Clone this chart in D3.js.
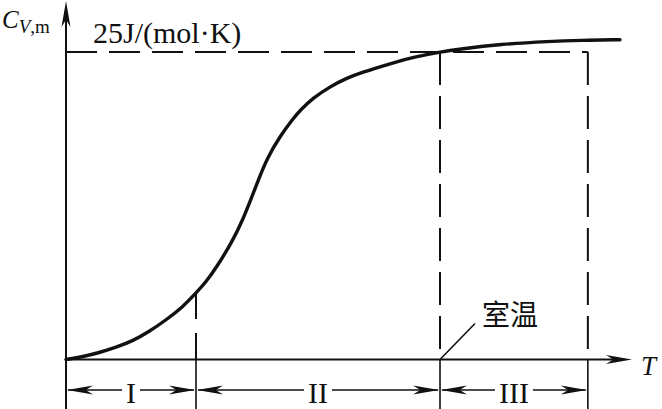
<!DOCTYPE html>
<html><head><meta charset="utf-8">
<script src="https://cdn.jsdelivr.net/npm/d3@7"></script>
<style>
html,body{margin:0;padding:0;background:#fff;}
svg{display:block;}
text{fill:#111;}
</style></head>
<body><svg id="c" width="662" height="409"></svg>
<script>
// Temperature (arbitrary units, 0..100 along axis) and molar heat capacity C_V,m (J/(mol·K))
const T  = [0, 3.0, 5.83, 8.83, 11.84, 14.66, 17.67, 20.67, 22.97, 24.73, 26.68, 29.51, 31.27, 32.51, 33.92, 35.51, 37.81, 40.11, 41.34, 43.64, 46.64, 49.65, 52.47, 55.48, 58.48, 61.31, 66.08, 69.61, 76.68, 85.51, 90.81, 97.88];
const Cv = [0, 0.23, 0.55, 0.98, 1.52, 2.26, 3.21, 4.29, 5.41, 6.30, 7.55, 9.70, 11.41, 12.83, 14.52, 16.35, 18.15, 19.57, 20.25, 21.26, 22.18, 22.89, 23.37, 23.80, 24.21, 24.57, 25.0, 25.24, 25.63, 25.87, 25.95, 26.0];
const plateau = 25;
const plateauLabel = "25J/(mol·K)";
const regionBounds = [0, 22.97, 66.08, 92.2];
const regionLabels = ["I", "II", "III"];
const roomTempLabel = "室温";
const roomTempIndex = 2; // boundary that marks room temperature

const svg = d3.select("#c");
const x = d3.scaleLinear().domain([0, 100]).range([66, 632]);
const y = d3.scaleLinear().domain([0, 25]).range([359.5, 52]);
const bottom = 409, rowY = 390;
const ink = "#111";
const serif = "'Liberation Serif','DejaVu Serif',serif";

// arrowhead shape, tip at origin pointing +x
const head = (len, hw) => `M0,0 L${-len},${-hw} L${-len*0.72},0 L${-len},${hw} Z`;
function arrowHead(px, py, angleDeg, len, hw) {
  svg.append("path").attr("d", head(len, hw)).attr("fill", ink)
    .attr("transform", `translate(${px},${py}) rotate(${angleDeg})`);
}

// dashed plateau line
svg.append("line").attr("x1", x(0)).attr("x2", x(regionBounds[3]))
  .attr("y1", y(plateau)).attr("y2", y(plateau))
  .attr("stroke", ink).attr("stroke-width", 2).attr("stroke-dasharray", "31,12");

// region boundaries: dashed above the axis, solid below it
const line = d3.line().x((d, i) => x(T[i])).y(d => y(d)).curve(d3.curveBasis);
const curveAt = t => {
  const i = d3.bisectLeft(T, t);
  if (T[i] === t) return Cv[i];
  const f = (t - T[i-1]) / (T[i] - T[i-1]);
  return Cv[i-1] + f * (Cv[i] - Cv[i-1]);
};
regionBounds.slice(1).forEach((b, k) => {
  const topV = k === 0 ? curveAt(b) : plateau;
  svg.append("line").attr("x1", x(b)).attr("x2", x(b)).attr("y1", y(topV)).attr("y2", y(0))
    .attr("stroke", ink).attr("stroke-width", 2).attr("stroke-dasharray", k === 0 ? "26,14" : "33,11");
  svg.append("line").attr("x1", x(b)).attr("x2", x(b)).attr("y1", y(0)).attr("y2", bottom)
    .attr("stroke", ink).attr("stroke-width", 1.6);
});

// axes
svg.append("line").attr("x1", x(0)).attr("x2", x(0)).attr("y1", bottom).attr("y2", 12)
  .attr("stroke", ink).attr("stroke-width", 2);
arrowHead(x(0), 1, -90, 26, 4.5);
svg.append("line").attr("x1", x(0)).attr("x2", x(100) - 10).attr("y1", y(0)).attr("y2", y(0))
  .attr("stroke", ink).attr("stroke-width", 2);
arrowHead(x(100), y(0), 0, 26, 4.5);

// curve
svg.append("path").datum(Cv).attr("d", line).attr("fill", "none")
  .attr("stroke", ink).attr("stroke-width", 3.4).attr("stroke-linecap", "round");

// region dimension arrows
regionLabels.forEach((lab, i) => {
  const a = x(regionBounds[i]), b = x(regionBounds[i+1]), m = (a + b) / 2;
  const t = svg.append("text").attr("x", m).attr("y", rowY + 13).attr("text-anchor", "middle")
    .attr("font-family", serif).attr("font-size", 30).text(lab);
  const w = t.node().getComputedTextLength();
  svg.append("line").attr("x1", a + 2).attr("x2", m - w/2 - 4).attr("y1", rowY).attr("y2", rowY)
    .attr("stroke", ink).attr("stroke-width", 1.4);
  svg.append("line").attr("x1", m + w/2 + 4).attr("x2", b - 2).attr("y1", rowY).attr("y2", rowY)
    .attr("stroke", ink).attr("stroke-width", 1.4);
  arrowHead(a + 1, rowY, 180, 26, 4.5);
  arrowHead(b - 1, rowY, 0, 26, 4.5);
});

// labels
const yl = svg.append("text").attr("x", 2).attr("y", 28).attr("font-family", serif);
yl.append("tspan").attr("font-style", "italic").attr("font-size", 25).text("C");
yl.append("tspan").attr("dy", 5).attr("font-size", 19).attr("font-style", "italic").text("V");
yl.append("tspan").attr("font-size", 19).text(",m");

svg.append("text").attr("x", 93).attr("y", 43).attr("font-family", serif)
  .attr("font-size", 30).text(plateauLabel);

svg.append("text").attr("x", 641).attr("y", 375).attr("font-family", serif)
  .attr("font-style", "italic").attr("font-size", 27).text("T");

const rx = x(regionBounds[roomTempIndex]);
svg.append("line").attr("x1", rx).attr("y1", y(0)).attr("x2", rx + 35).attr("y2", y(0) - 36)
  .attr("stroke", ink).attr("stroke-width", 1.6);
svg.append("text").attr("x", rx + 42).attr("y", 325)
  .attr("font-family", "'Noto Sans CJK SC',sans-serif").attr("font-size", 28).text(roomTempLabel);
</script></body></html>
